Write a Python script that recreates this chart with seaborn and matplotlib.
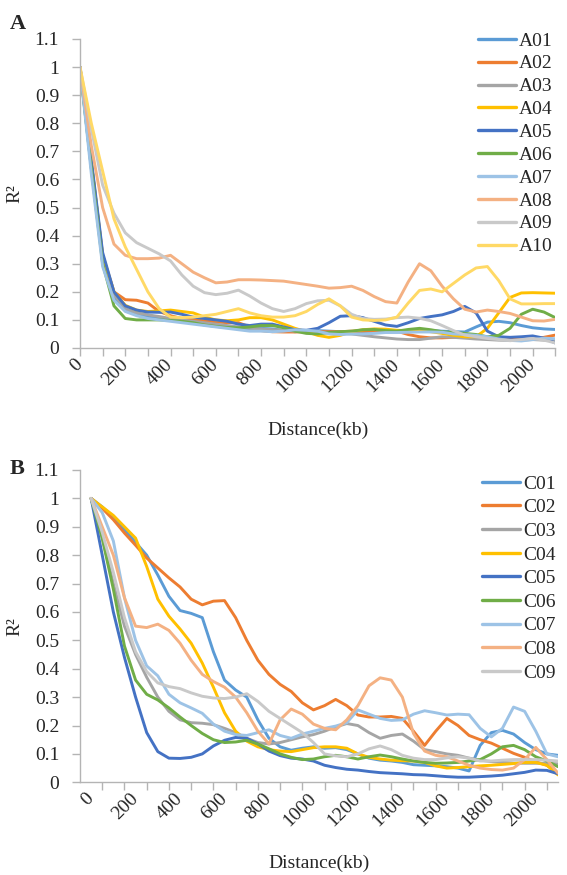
import matplotlib
matplotlib.use("Agg")
import matplotlib.pyplot as plt
import seaborn as sns
import pandas as pd
from matplotlib.ticker import FixedLocator, FuncFormatter

# ---------------- data ----------------
distance_kb = [0, 50, 100, 150, 200, 250, 300, 350, 400, 450, 500, 550, 600, 650, 700,
               750, 800, 850, 900, 950, 1000, 1050, 1100, 1150, 1200, 1250, 1300, 1350,
               1400, 1450, 1500, 1550, 1600, 1650, 1700, 1750, 1800, 1850, 1900, 1950,
               2000, 2050, 2100]

a_names = ["A01", "A02", "A03", "A04", "A05", "A06", "A07", "A08", "A09", "A10"]
A01 = [1.0, 0.64, 0.31, 0.18, 0.135, 0.12, 0.11, 0.105, 0.1, 0.095, 0.09, 0.085, 0.08, 0.075, 0.07,
       0.068, 0.07, 0.068, 0.062, 0.058, 0.06, 0.062, 0.06, 0.058, 0.055, 0.055, 0.055, 0.056,
       0.058, 0.06, 0.062, 0.062, 0.06, 0.058, 0.057, 0.075, 0.092, 0.095, 0.09, 0.08,
       0.072, 0.068, 0.066]
A02 = [1.0, 0.66, 0.33, 0.2, 0.172, 0.17, 0.16, 0.13, 0.115, 0.105, 0.1, 0.097, 0.093, 0.09, 0.09,
       0.075, 0.062, 0.058, 0.057, 0.057, 0.058, 0.058, 0.058, 0.058, 0.06, 0.06, 0.062, 0.064,
       0.06, 0.048, 0.04, 0.036, 0.036, 0.038, 0.04, 0.04, 0.038, 0.037, 0.036, 0.032,
       0.03, 0.038, 0.046]
A03 = [1.0, 0.66, 0.32, 0.19, 0.14, 0.125, 0.118, 0.112, 0.105, 0.1, 0.095, 0.09, 0.085, 0.08, 0.075,
       0.07, 0.068, 0.065, 0.063, 0.06, 0.058, 0.055, 0.053, 0.052, 0.05, 0.045, 0.04, 0.036,
       0.032, 0.03, 0.03, 0.035, 0.04, 0.038, 0.035, 0.032, 0.03, 0.028, 0.027, 0.028,
       0.03, 0.028, 0.025]
A04 = [1.0, 0.66, 0.33, 0.2, 0.152, 0.135, 0.13, 0.132, 0.135, 0.13, 0.125, 0.11, 0.1, 0.097, 0.1,
       0.108, 0.108, 0.1, 0.085, 0.07, 0.058, 0.045, 0.038, 0.045, 0.058, 0.065, 0.068, 0.067,
       0.063, 0.062, 0.063, 0.058, 0.052, 0.045, 0.04, 0.04, 0.07, 0.125, 0.18, 0.196,
       0.197, 0.196, 0.195]
A05 = [1.0, 0.67, 0.34, 0.2, 0.15, 0.135, 0.128, 0.127, 0.128, 0.12, 0.11, 0.105, 0.1, 0.095, 0.085,
       0.08, 0.085, 0.085, 0.075, 0.065, 0.063, 0.07, 0.09, 0.113, 0.115, 0.108, 0.095, 0.082,
       0.077, 0.09, 0.105, 0.112, 0.118, 0.13, 0.148, 0.125, 0.06, 0.04, 0.038, 0.04,
       0.043, 0.035, 0.018]
A06 = [1.0, 0.64, 0.3, 0.15, 0.105, 0.1, 0.1, 0.1, 0.098, 0.095, 0.09, 0.082, 0.077, 0.073, 0.072,
       0.075, 0.08, 0.08, 0.072, 0.06, 0.052, 0.05, 0.055, 0.058, 0.06, 0.065, 0.066, 0.062,
       0.06, 0.066, 0.07, 0.065, 0.058, 0.055, 0.052, 0.048, 0.04, 0.045, 0.07, 0.12,
       0.138, 0.128, 0.108]
A07 = [1.0, 0.62, 0.29, 0.17, 0.13, 0.115, 0.105, 0.1, 0.095, 0.09, 0.085, 0.08, 0.075, 0.07, 0.065,
       0.06, 0.06, 0.058, 0.06, 0.065, 0.063, 0.06, 0.05, 0.048, 0.05, 0.05, 0.052, 0.055,
       0.055, 0.056, 0.057, 0.057, 0.056, 0.05, 0.048, 0.045, 0.04, 0.032, 0.027, 0.025,
       0.03, 0.035, 0.033]
A08 = [1.0, 0.72, 0.5, 0.37, 0.33, 0.318, 0.318, 0.32, 0.33, 0.3, 0.27, 0.25, 0.232, 0.235, 0.243,
       0.243, 0.242, 0.24, 0.238, 0.232, 0.226, 0.22, 0.213, 0.215, 0.22, 0.205, 0.183, 0.165,
       0.16, 0.235, 0.3, 0.275, 0.22, 0.175, 0.138, 0.128, 0.135, 0.13, 0.123, 0.11,
       0.097, 0.096, 0.102]
A09 = [1.0, 0.78, 0.58, 0.48, 0.41, 0.375, 0.355, 0.335, 0.31, 0.26, 0.22, 0.197, 0.19, 0.195, 0.206,
       0.185, 0.16, 0.14, 0.13, 0.14, 0.158, 0.168, 0.17, 0.15, 0.12, 0.105, 0.102, 0.103,
       0.108, 0.11, 0.106, 0.097, 0.08, 0.062, 0.046, 0.04, 0.034, 0.03, 0.026, 0.03,
       0.034, 0.028, 0.018]
A10 = [1.0, 0.8, 0.63, 0.46, 0.36, 0.28, 0.2, 0.14, 0.11, 0.108, 0.11, 0.115, 0.12, 0.13, 0.14,
       0.125, 0.115, 0.11, 0.11, 0.115, 0.13, 0.155, 0.175, 0.15, 0.11, 0.1, 0.098, 0.1,
       0.11, 0.16, 0.205, 0.21, 0.2, 0.23, 0.26, 0.285, 0.29, 0.24, 0.175, 0.157,
       0.157, 0.158, 0.158]

c_names = ["C01", "C02", "C03", "C04", "C05", "C06", "C07", "C08", "C09"]
C01 = [1.0, 0.97, 0.935, 0.89, 0.845, 0.8, 0.73, 0.655, 0.605, 0.595, 0.58, 0.46, 0.36, 0.325, 0.3,
       0.22, 0.155, 0.125, 0.113, 0.12, 0.125, 0.12, 0.122, 0.115, 0.1, 0.085, 0.078, 0.075,
       0.07, 0.062, 0.06, 0.058, 0.055, 0.05, 0.04, 0.13, 0.175, 0.183, 0.17, 0.14,
       0.115, 0.1, 0.095]
C02 = [1.0, 0.965, 0.925, 0.878, 0.835, 0.79, 0.755, 0.72, 0.688, 0.645, 0.625, 0.638, 0.64, 0.58, 0.5,
       0.43, 0.38, 0.345, 0.32, 0.28, 0.255, 0.27, 0.292, 0.27, 0.237, 0.23, 0.23, 0.232,
       0.225, 0.18, 0.13, 0.18, 0.225, 0.2, 0.165, 0.15, 0.138, 0.12, 0.102, 0.088,
       0.072, 0.06, 0.032]
C03 = [1.0, 0.86, 0.7, 0.55, 0.45, 0.37, 0.3, 0.25, 0.22, 0.21, 0.208, 0.203, 0.19, 0.175, 0.155,
       0.14, 0.135, 0.14, 0.15, 0.16, 0.168, 0.18, 0.195, 0.207, 0.2, 0.175, 0.155, 0.165,
       0.17, 0.145, 0.115, 0.108, 0.1, 0.095, 0.085, 0.078, 0.073, 0.07, 0.068, 0.067,
       0.067, 0.067, 0.065]
C04 = [1.0, 0.97, 0.94, 0.9, 0.86, 0.76, 0.645, 0.585, 0.54, 0.49, 0.42, 0.335, 0.245, 0.18, 0.145,
       0.125, 0.115, 0.11, 0.108, 0.115, 0.122, 0.125, 0.125, 0.12, 0.1, 0.088, 0.082, 0.078,
       0.076, 0.075, 0.07, 0.058, 0.05, 0.052, 0.055, 0.058, 0.06, 0.063, 0.066, 0.07,
       0.07, 0.06, 0.026]
C05 = [1.0, 0.8, 0.6, 0.44, 0.3, 0.175, 0.108, 0.085, 0.084, 0.088, 0.1, 0.128, 0.148, 0.158, 0.155,
       0.135, 0.11, 0.094, 0.085, 0.082, 0.075, 0.06, 0.052, 0.046, 0.043, 0.038, 0.034, 0.032,
       0.03, 0.027, 0.026, 0.023, 0.02, 0.018, 0.018, 0.02, 0.022, 0.025, 0.03, 0.035,
       0.043, 0.042, 0.03]
C06 = [1.0, 0.86, 0.68, 0.48, 0.36, 0.31, 0.29, 0.262, 0.23, 0.2, 0.172, 0.15, 0.14, 0.142, 0.148,
       0.135, 0.118, 0.1, 0.088, 0.08, 0.082, 0.09, 0.095, 0.09, 0.082, 0.09, 0.096, 0.09,
       0.082, 0.075, 0.07, 0.067, 0.068, 0.07, 0.075, 0.08, 0.1, 0.125, 0.13, 0.115,
       0.09, 0.075, 0.055]
C07 = [1.0, 0.95, 0.85, 0.65, 0.5, 0.41, 0.375, 0.31, 0.28, 0.262, 0.243, 0.205, 0.18, 0.168, 0.165,
       0.175, 0.185, 0.165, 0.155, 0.17, 0.18, 0.19, 0.198, 0.21, 0.255, 0.24, 0.225, 0.218,
       0.22, 0.24, 0.252, 0.245, 0.237, 0.24, 0.238, 0.19, 0.16, 0.19, 0.265, 0.25,
       0.18, 0.1, 0.09]
C08 = [1.0, 0.9, 0.8, 0.65, 0.55, 0.545, 0.557, 0.535, 0.49, 0.43, 0.38, 0.355, 0.335, 0.3, 0.245,
       0.18, 0.135, 0.22, 0.258, 0.24, 0.205, 0.19, 0.185, 0.22, 0.27, 0.34, 0.368, 0.36,
       0.3, 0.172, 0.11, 0.095, 0.09, 0.075, 0.06, 0.05, 0.045, 0.043, 0.05, 0.08,
       0.123, 0.08, 0.032]
C09 = [1.0, 0.88, 0.74, 0.58, 0.46, 0.39, 0.35, 0.337, 0.33, 0.315, 0.303, 0.297, 0.295, 0.3, 0.312,
       0.285, 0.25, 0.225, 0.2, 0.175, 0.14, 0.1, 0.093, 0.09, 0.1, 0.118, 0.128, 0.115,
       0.095, 0.085, 0.08, 0.08, 0.086, 0.09, 0.085, 0.075, 0.075, 0.078, 0.08, 0.08,
       0.08, 0.078, 0.075]

y_ticks = [0, 0.1, 0.2, 0.3, 0.4, 0.5, 0.6, 0.7, 0.8, 0.9, 1.0, 1.1]
x_tick_labels = [0, 200, 400, 600, 800, 1000, 1200, 1400, 1600, 1800, 2000]

# ---------------- style ----------------
a_colors = ["#5B9BD5", "#ED7D31", "#A5A5A5", "#FFC000", "#4472C4",
            "#70AD47", "#9DC3E6", "#F4B183", "#C9C9C9", "#FFD966"]
c_colors = a_colors[:9]

sns.set_style("white")
plt.rcParams["font.family"] = ["Liberation Serif", "DejaVu Serif"]
plt.rcParams["font.size"] = 14

W, H = 567, 875
fig = plt.figure(figsize=(W / 100, H / 100), dpi=100)


def long_df(names, series):
    rows = []
    for n, s in zip(names, series):
        assert len(s) == len(distance_kb), n
        for d, v in zip(distance_kb, s):
            rows.append({"Distance": d, "R2": v, "Chrom": n})
    return pd.DataFrame(rows)


df_a = long_df(a_names, [A01, A02, A03, A04, A05, A06, A07, A08, A09, A10])
df_c = long_df(c_names, [C01, C02, C03, C04, C05, C06, C07, C08, C09])

AX_COLOR = "#B4B4B4"


def px_axes(left, top, right, bottom):
    return fig.add_axes([left / W, 1 - bottom / H, (right - left) / W, (bottom - top) / H])


def style_axes(ax, xlabelpad):
    for s in ["top", "right"]:
        ax.spines[s].set_visible(False)
    for s in ["left", "bottom"]:
        ax.spines[s].set_color(AX_COLOR)
        ax.spines[s].set_linewidth(1.0)
    ax.set_ylim(0, 1.1)
    ax.yaxis.set_major_locator(FixedLocator(y_ticks))
    ax.yaxis.set_major_formatter(FuncFormatter(lambda v, p: f"{v:g}"))
    ax.tick_params(axis="y", which="major", direction="out", length=6, width=1.0,
                   color=AX_COLOR, pad=9, labelsize=14, left=True)
    ax.set_ylabel("R²", fontsize=14, labelpad=8)
    ax.set_xlabel("Distance(kb)", fontsize=14, labelpad=xlabelpad)
    ax.grid(False)


def place_legend(ax, x_px, top_px, spacing):
    handles, labels = ax.get_legend_handles_labels()
    leg = ax.legend(handles, labels, loc="upper left",
                    bbox_to_anchor=(x_px / W, 1 - top_px / H), bbox_transform=fig.transFigure,
                    frameon=False, fontsize=14, handlelength=1.95, handletextpad=0.15,
                    labelspacing=spacing, borderpad=0, borderaxespad=0)
    for ln in leg.get_lines():
        ln.set_linewidth(2.4)


# ---------------- panel A ----------------
axA = px_axes(80, 39, 555.3, 348)
sns.lineplot(data=df_a, x="Distance", y="R2", hue="Chrom", hue_order=a_names,
             palette=a_colors, linewidth=2.1, ax=axA, sort=False)
style_axes(axA, 19)
axA.set_xlim(0, 2100)
axA.xaxis.set_major_locator(FixedLocator(x_tick_labels))
axA.xaxis.set_minor_locator(FixedLocator([100 + 200 * i for i in range(11)]))
axA.tick_params(axis="x", which="both", direction="out", length=6, width=1.0,
                color=AX_COLOR, bottom=True)
axA.tick_params(axis="x", which="major", labelsize=14, pad=4)
for t in axA.get_xticklabels():
    t.set_rotation(45)
    t.set_rotation_mode("anchor")
    t.set_ha("right")
    t.set_va("center")
place_legend(axA, 478, 32, 0.27)

# ---------------- panel B ----------------
axB = px_axes(80, 470, 558, 782.3)
sns.lineplot(data=df_c, x="Distance", y="R2", hue="Chrom", hue_order=c_names,
             palette=c_colors, linewidth=2.1, ax=axB, sort=False)
style_axes(axB, 18)
axB.set_xlim(-50, 2100)
axB.xaxis.set_major_locator(FixedLocator(x_tick_labels))
axB.xaxis.set_minor_locator(FixedLocator([50 + 100 * i for i in range(21)]))
axB.tick_params(axis="x", which="major", length=0, labelsize=14, pad=10)
axB.tick_params(axis="x", which="minor", direction="out", length=6, width=1.0,
                color=AX_COLOR, bottom=True)
for t in axB.get_xticklabels():
    t.set_rotation(45)
    t.set_rotation_mode("anchor")
    t.set_ha("right")
    t.set_va("center")
place_legend(axB, 482, 475, 0.31)

# panel letters
fig.text(10 / W, 1 - 29 / H, "A", fontsize=16, fontweight="bold", ha="left", va="baseline")
fig.text(10 / W, 1 - 474 / H, "B", fontsize=16, fontweight="bold", ha="left", va="baseline")

fig.savefig("out.png", dpi=100)
